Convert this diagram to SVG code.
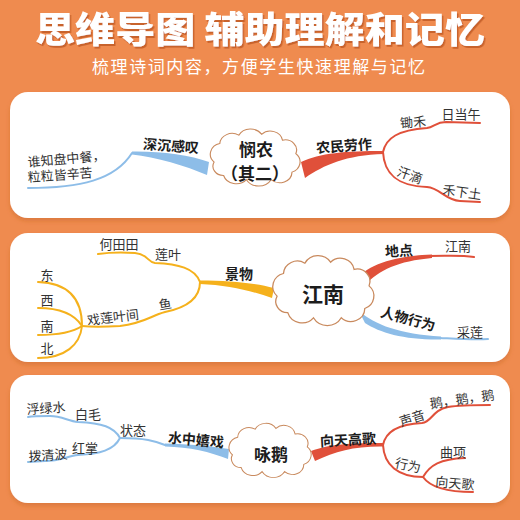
<svg xmlns="http://www.w3.org/2000/svg" xmlns:xlink="http://www.w3.org/1999/xlink" width="520" height="520" viewBox="0 0 520 520">
<style>
.t{font-family:"Noto Sans CJK SC","Noto Sans",sans-serif;}
.lb{font-family:"Noto Sans CJK SC",sans-serif;font-size:13px;fill:#333;text-anchor:middle;}
.bd{font-family:"Noto Sans CJK SC",sans-serif;font-size:14px;font-weight:700;fill:#1c1c1c;text-anchor:middle;}
.ct{font-family:"Noto Sans CJK SC",sans-serif;font-weight:700;fill:#1c1c1c;text-anchor:middle;}
.panel{fill:#ffffff;filter:url(#psh);}
.cloud{fill:#ffffff;stroke:#C98A5E;stroke-width:1.2;}
.bl{fill:none;stroke:#8DBDE8;stroke-width:2;stroke-linecap:round;}
.blf{fill:#8DBDE8;}
.rd{fill:none;stroke:#E0503A;stroke-width:2;stroke-linecap:round;}
.rdf{fill:#E0503A;}
.yl{fill:none;stroke:#F5B11C;stroke-width:2;stroke-linecap:round;}
.ylf{fill:#F5B11C;}
</style>
<defs>
<filter id="psh" x="-5%" y="-10%" width="110%" height="125%">
<feDropShadow dx="0" dy="3" stdDeviation="2" flood-color="#B85A20" flood-opacity="0.35"/>
</filter>
<filter id="tsh" x="-5%" y="-20%" width="110%" height="150%">
<feDropShadow dx="1.5" dy="2" stdDeviation="0.6" flood-color="#C45F28" flood-opacity="0.9"/>
</filter>
<path id="cloudp" d="M-42,6 A13,13 0 0 1 -36,-16 A13,13 0 0 1 -16,-26 A14,14 0 0 1 8,-27 A13,13 0 0 1 30,-20 A12,12 0 0 1 44,-4 A13,13 0 0 1 40,18 A13,13 0 0 1 18,27 A15,15 0 0 1 -8,27 A14,14 0 0 1 -32,22 A11,11 0 0 1 -42,6 Z"/>
</defs>

<rect x="0" y="0" width="520" height="520" fill="#EF8B4F"/>

<g id="header">
<text class="t" x="260" y="43" font-size="36" font-weight="900" fill="#ffffff" text-anchor="middle" textLength="450" lengthAdjust="spacingAndGlyphs" filter="url(#tsh)">思维导图 辅助理解和记忆</text>
<text class="t" x="258.5" y="73" font-size="17" fill="#ffffff" text-anchor="middle" textLength="333" lengthAdjust="spacing">梳理诗词内容，方便学生快速理解与记忆</text>
</g>

<g id="panels">
<rect class="panel" x="10" y="92" width="500" height="126" rx="18"/>
<rect class="panel" x="10" y="233" width="500" height="129" rx="18"/>
<rect class="panel" x="10" y="375" width="500" height="128" rx="18"/>
</g>

<g id="connectors">
<!-- panel 1 -->
<path class="bl" d="M28,188 C80,188 115,180 132,153"/>
<path class="blf" d="M132,151.5 C160,151 190,155 209,162 L207,175 C186,166 156,157 132,154.5 Z"/>
<path class="rdf" d="M301,162 C320,153 345,151 384,151 L384,154 C346,155 324,165 305,178 Z"/>
<path class="rd" d="M383,152 C386,138 398,130 427,128 C434,127 436,122 446,122 L480,123"/>
<path class="rd" d="M383,152 C384,172 395,186 427,187 C440,188 445,200 460,201 L480,202"/>
<!-- panel 2 -->
<path class="ylf" d="M200,280.5 C230,280.5 255,283 274,288 L272,298 C252,291 228,285 200,284 Z"/>
<path class="yl" d="M200,282 C195,268 178,264 155,263 C147,262 148,254 135,253 C120,252 105,253 98,254"/>
<path class="yl" d="M200,282 C200,300 185,308 165,312 C150,316 145,323 120,326 C105,327 90,327 82,326"/>
<path class="yl" d="M82,326 C82,300 70,283 38,282"/>
<path class="yl" d="M82,326 C75,315 62,308 38,308"/>
<path class="yl" d="M82,326 C72,333 55,335 38,335"/>
<path class="yl" d="M82,326 C80,345 65,358 38,358"/>
<path class="rdf" d="M359,276 C372,264 395,256 432,254.5 L432,258 C398,261 379,270 365,285 Z"/>
<path class="rd" d="M430,256 C450,256 460,255 474,257"/>
<path class="blf" d="M359,311 C375,325 400,334 441,336.5 L441,339.5 C405,340 380,333 365,323 Z"/>
<path class="bl" d="M440,338 C460,339 475,340 488,339"/>
<!-- panel 3 -->
<path class="blf" d="M229,449 C210,446 190,444 165,443.5 L165,446.5 C190,447 210,452 228,459 Z"/>
<path class="bl" d="M165,445 C155,441 145,438 120,438"/>
<path class="bl" d="M120,438 C114,427 102,423 78,422 C68,421 62,416 50,416 C40,416 33,416 28,417"/>
<path class="bl" d="M120,438 C114,450 100,454 78,455 C68,456 60,461 45,461 L28,462"/>
<path class="rdf" d="M311,451 C330,444 350,443 384,443 L384,446.5 C355,446 336,451 315,461 Z"/>
<path class="rd" d="M383,445 C386,430 400,424 422,423 C432,422 432,410 448,407 C460,405 475,405 490,405"/>
<path class="rd" d="M383,445 C384,465 398,477 423,477"/>
<path class="rd" d="M423,477 C430,465 440,459 465,458"/>
<path class="rd" d="M423,477 C430,487 445,492 473,492"/>
</g>

<g id="node-minnong">
<use xlink:href="#cloudp" href="#cloudp" class="cloud" transform="translate(254 157) scale(0.95 0.84)" vector-effect="non-scaling-stroke"/>
<text class="ct" x="256" y="156" font-size="17">悯农</text>
<text class="ct" x="255" y="180" font-size="17">（其二）</text>
</g>
<g id="node-shenchen"><text class="bd" x="171" y="151" transform="rotate(4 171 146)">深沉感叹</text></g>
<g id="node-shuizhi">
<text class="lb" x="28" y="167" font-size="13.5" style="text-anchor:start" transform="rotate(-5 28 167)">谁知盘中餐，</text>
<text class="lb" x="28" y="182" font-size="14" style="text-anchor:start" transform="rotate(-4 28 182)">粒粒皆辛苦</text>
</g>
<g id="node-nongmin"><text class="bd" x="344" y="151" transform="rotate(-4 344 146)">农民劳作</text></g>
<g id="node-chuhe"><text class="lb" x="413" y="127" transform="rotate(-5 413 122)">锄禾</text></g>
<g id="node-ridangwu"><text class="lb" x="461" y="119" font-size="12.5">日当午</text></g>
<g id="node-handi"><text class="lb" x="410" y="180" transform="rotate(20 410 175)">汗滴</text></g>
<g id="node-hexiatu"><text class="lb" x="462" y="197" font-size="12.5" transform="rotate(8 462 192)">禾下土</text></g>

<g id="node-jiangnan">
<use xlink:href="#cloudp" href="#cloudp" class="cloud" transform="translate(322 290) scale(1.07 1.03)" vector-effect="non-scaling-stroke"/>
<text class="ct" x="323" y="302" font-size="21">江南</text>
</g>
<g id="node-jingwu"><text class="bd" x="239" y="279" font-size="15">景物</text></g>
<g id="node-lianye"><text class="lb" x="168" y="259">莲叶</text></g>
<g id="node-hetiantian"><text class="lb" x="119" y="249">何田田</text></g>
<g id="node-yu"><text class="lb" x="165" y="309" transform="rotate(-10 165 304)">鱼</text></g>
<g id="node-xilian"><text class="lb" x="113" y="322" transform="rotate(-7 113 317)">戏莲叶间</text></g>
<g id="node-dong"><text class="lb" x="47" y="280">东</text></g>
<g id="node-xi"><text class="lb" x="47" y="305">西</text></g>
<g id="node-nan"><text class="lb" x="47" y="331">南</text></g>
<g id="node-bei"><text class="lb" x="47" y="353">北</text></g>
<g id="node-didian"><text class="bd" x="399" y="256" font-size="15" transform="rotate(-3 399 251)">地点</text></g>
<g id="node-jiangnan2"><text class="lb" x="458" y="251">江南</text></g>
<g id="node-renwu"><text class="bd" x="408" y="324" font-size="15" transform="rotate(15 408 319)">人物行为</text></g>
<g id="node-cailian"><text class="lb" x="470" y="337">采莲</text></g>

<g id="node-yonge">
<use xlink:href="#cloudp" href="#cloudp" class="cloud" transform="translate(269 450) scale(0.87 0.8)" vector-effect="non-scaling-stroke"/>
<text class="ct" x="271" y="461" font-size="17">咏鹅</text>
</g>
<g id="node-shuizhong"><text class="bd" x="196" y="445" transform="rotate(5 196 440)">水中嬉戏</text></g>
<g id="node-zhuangtai"><text class="lb" x="133" y="435">状态</text></g>
<g id="node-baimao"><text class="lb" x="88" y="419">白毛</text></g>
<g id="node-fulvshui"><text class="lb" x="46" y="413" transform="rotate(-4 46 408)">浮绿水</text></g>
<g id="node-hongzhang"><text class="lb" x="85" y="453">红掌</text></g>
<g id="node-boqingbo"><text class="lb" x="48" y="460" transform="rotate(-4 48 455)">拨清波</text></g>
<g id="node-xiangtian"><text class="bd" x="348" y="445" transform="rotate(-3 348 440)">向天高歌</text></g>
<g id="node-shengyin"><text class="lb" x="412" y="423" transform="rotate(-18 412 418)">声音</text></g>
<g id="node-e"><text class="lb" x="462" y="404" font-size="11.5" transform="rotate(-8 462 399)">鹅，鹅，鹅</text></g>
<g id="node-xingwei"><text class="lb" x="408" y="470" transform="rotate(12 408 465)">行为</text></g>
<g id="node-quxiang"><text class="lb" x="453" y="457" font-size="12">曲项</text></g>
<g id="node-xiangtiange"><text class="lb" x="455" y="488" font-size="12.5" transform="rotate(5 455 483)">向天歌</text></g>
</svg>
